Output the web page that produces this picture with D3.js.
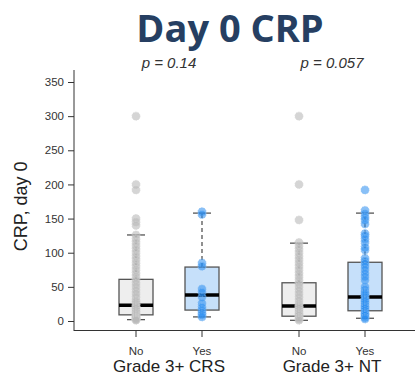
<!DOCTYPE html>
<html>
<head>
<meta charset="utf-8">
<script src="https://cdn.jsdelivr.net/npm/d3@7"></script>
<style>
  body { margin: 0; background: #fff; }
  text { font-family: "Liberation Sans", Arial, sans-serif; }
</style>
</head>
<body>
<script>
(function () {
  "use strict";
  var w = 415, h = 375;

  var groups = ["Grade 3+ CRS", "Grade 3+ NT"];
  var levels = ["No", "Yes"];
  var pValues = ["p = 0.14", "p = 0.057"];
  var yTicks = [0, 50, 100, 150, 200, 250, 300, 350];

  // box stats per group/level: [whiskerLow, q1, median, q3, whiskerHigh]
  var crsNoBox  = [2, 9, 23, 61, 126];
  var crsYesBox = [6, 16, 38, 79, 158];
  var ntNoBox   = [1, 7, 22, 56, 114];
  var ntYesBox  = [4, 15, 35, 86, 158];

  var crsNoPts  = [300, 200, 192, 150, 145, 140, 126, 120, 115, 110, 105, 100, 95, 90, 85, 80, 75, 70, 65, 60,
                   55, 50, 45, 40, 35, 30, 28, 25, 22, 20, 18, 15, 12, 10, 8, 6, 5, 4, 3, 2, 1];
  var crsYesPts = [160, 156, 85, 80, 47, 42, 35, 26, 20, 16, 12, 9, 6];
  var ntNoPts   = [300, 200, 148, 115, 110, 105, 100, 95, 90, 85, 80, 75, 70, 65, 60, 55, 50, 45, 40, 35,
                   30, 25, 22, 20, 18, 15, 12, 10, 8, 5, 3, 1];
  var ntYesPts  = [192, 162, 157, 152, 148, 142, 128, 125, 120, 115, 108, 104, 92, 88, 84, 80, 75, 70, 65, 60,
                   50, 46, 42, 40, 38, 35, 32, 30, 28, 25, 22, 20, 18, 15, 12, 10, 8, 5, 3];

  var boxes = [
    { g: groups[0], l: levels[0], s: crsNoBox,  pts: crsNoPts },
    { g: groups[0], l: levels[1], s: crsYesBox, pts: crsYesPts },
    { g: groups[1], l: levels[0], s: ntNoBox,   pts: ntNoPts },
    { g: groups[1], l: levels[1], s: ntYesBox,  pts: ntYesPts }
  ];

  var y = d3.scaleLinear().domain([0, 350]).range([321, 82]);
  var xg = d3.scalePoint().domain(groups).range([169, 332]);
  var xl = d3.scalePoint().domain(levels).range([-33, 33]);
  var xpos = d => xg(d.g) + xl(d.l);

  var boxFill = { No: "#eeeeee", Yes: "#c6e0fa" };
  var ptFill = { No: "rgba(185,185,185,0.6)", Yes: "rgba(40,140,240,0.55)" };
  var ptStroke = { No: "#d4d4d4", Yes: "#86bdf3" };

  var svg = d3.select("body").append("svg")
              .attr("width", w).attr("height", h);

  // title
  svg.append("text")
     .attr("x", 230).attr("y", 42)
     .attr("text-anchor", "middle")
     .style("font-family", "'Open Sans', sans-serif")
     .style("font-weight", "bold")
     .style("font-size", "38px")
     .attr("fill", "#263f62")
     .text("Day 0 CRP");

  // p values
  svg.selectAll("text.pval")
     .data(groups)
     .enter().append("text")
     .attr("class", "pval")
     .attr("x", d => xg(d))
     .attr("y", 68)
     .attr("text-anchor", "middle")
     .style("font-size", "15px")
     .style("font-style", "italic")
     .attr("fill", "#333")
     .text((d, i) => pValues[i]);

  // y axis
  var yAxis = svg.append("g")
     .attr("transform", "translate(74,0)")
     .call(d3.axisLeft(y).tickValues(yTicks).tickSize(6).tickPadding(4));
  yAxis.select(".domain").remove();
  yAxis.selectAll("line").attr("stroke", "#333");
  yAxis.selectAll("text").style("font-size", "11.5px").attr("fill", "#333")
       .style("font-family", "'Liberation Sans', Arial, sans-serif");
  svg.append("line")
     .attr("x1", 74).attr("x2", 74).attr("y1", 70).attr("y2", 331)
     .attr("stroke", "#333");

  svg.append("text")
     .attr("transform", "translate(27," + y(168) + ") rotate(-90)")
     .attr("text-anchor", "middle")
     .style("font-size", "18px")
     .attr("fill", "#222")
     .text("CRP, day 0");

  // x axis
  svg.append("line")
     .attr("x1", 74).attr("x2", w).attr("y1", 330.5).attr("y2", 330.5)
     .attr("stroke", "#333");
  svg.selectAll("line.xtick")
     .data(boxes).enter().append("line")
     .attr("class", "xtick")
     .attr("x1", xpos).attr("x2", xpos)
     .attr("y1", 330).attr("y2", 337)
     .attr("stroke", "#333");
  svg.selectAll("text.xlab")
     .data(boxes).enter().append("text")
     .attr("class", "xlab")
     .attr("x", xpos).attr("y", 355)
     .attr("text-anchor", "middle")
     .style("font-size", "11.5px")
     .attr("fill", "#333")
     .text(d => d.l);
  svg.selectAll("text.glab")
     .data(groups).enter().append("text")
     .attr("class", "glab")
     .attr("x", d => xg(d)).attr("y", 372)
     .attr("text-anchor", "middle")
     .style("font-size", "17px")
     .attr("fill", "#222")
     .text(d => d);

  var bw = 34, cap = 9;
  var bx = svg.selectAll("g.box").data(boxes).enter().append("g").attr("class", "box");

  // whiskers
  bx.append("line")
    .attr("x1", xpos).attr("x2", xpos)
    .attr("y1", d => y(d.s[3])).attr("y2", d => y(d.s[4]))
    .attr("stroke", "#555").attr("stroke-width", 1.3).attr("stroke-dasharray", "4,3");
  bx.append("line")
    .attr("x1", xpos).attr("x2", xpos)
    .attr("y1", d => y(d.s[1])).attr("y2", d => y(d.s[0]))
    .attr("stroke", "#555").attr("stroke-width", 1.3).attr("stroke-dasharray", "4,3");
  [0, 4].forEach(function (k) {
    bx.append("line")
      .attr("x1", d => xpos(d) - cap).attr("x2", d => xpos(d) + cap)
      .attr("y1", d => y(d.s[k])).attr("y2", d => y(d.s[k]))
      .attr("stroke", "#555").attr("stroke-width", 1.3);
  });

  // box
  bx.append("rect")
    .attr("x", d => xpos(d) - bw / 2).attr("width", bw)
    .attr("y", d => y(d.s[3])).attr("height", d => y(d.s[1]) - y(d.s[3]))
    .attr("fill", d => boxFill[d.l])
    .attr("stroke", "#555").attr("stroke-width", 1.3);
  bx.append("line")
    .attr("x1", d => xpos(d) - bw / 2).attr("x2", d => xpos(d) + bw / 2)
    .attr("y1", d => y(d.s[2])).attr("y2", d => y(d.s[2]))
    .attr("stroke", "#000").attr("stroke-width", 3.5);

  // points
  bx.selectAll("circle")
    .data(d => d.pts.map(v => ({ g: d.g, l: d.l, v: v })))
    .enter().append("circle")
    .attr("cx", xpos)
    .attr("cy", d => y(d.v))
    .attr("r", 4)
    .attr("fill", d => ptFill[d.l])
    .attr("stroke", d => ptStroke[d.l])
    .attr("stroke-width", 0.8)
    .attr("stroke-dasharray", "1.5,1");
})();
</script>
</body>
</html>
